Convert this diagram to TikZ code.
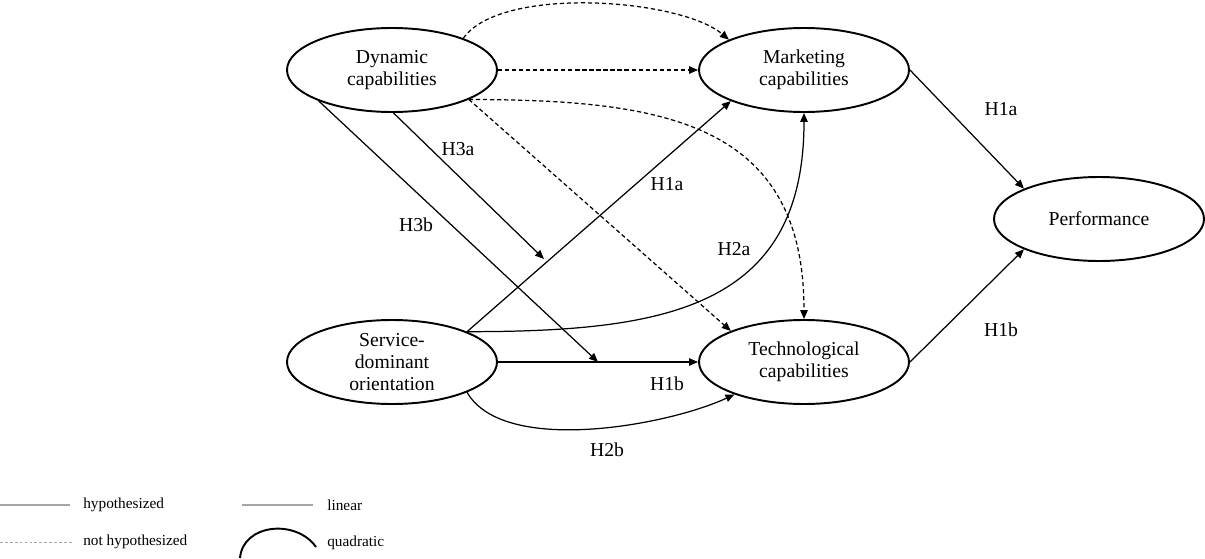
\documentclass[tikz,border=0pt]{standalone}
\usepackage{fontspec}
\setmainfont{Liberation Serif}
\usetikzlibrary{arrows.meta,positioning,shapes.geometric,calc}
\definecolor{LegendGray}{HTML}{A6A6A6}

\begin{document}
\begin{tikzpicture}[
  x=1cm, y=1cm,
  construct/.style={draw, ellipse, line width=1.1pt, minimum width=4.2cm, minimum height=1.68cm, inner sep=0pt, align=center, font=\fontsize{11.2}{12.3}\selectfont},
  arr/.style={-{Triangle[length=1.8mm, width=1.5mm]}, line width=0.7pt},
  nothyp/.style={arr, dash pattern=on 2.4pt off 1.6pt},
  hlabel/.style={inner sep=0pt, font=\fontsize{11.2}{12.3}\selectfont},
  legtext/.style={anchor=west, inner sep=0pt, font=\fontsize{8.7}{10}\selectfont},
  legline/.style={LegendGray, line width=0.6pt}
]
\useasboundingbox (0,0) rectangle (24.1,11.16);
% constructs
\node[construct] (dc) at (7.84,9.76) {Dynamic\\capabilities};
\node[construct] (mc) at (16.08,9.76) {Marketing\\capabilities};
\node[construct] (perf) at (21.98,6.78) {Performance};
\node[construct] (tc) at (16.08,3.92) {Technological\\capabilities};
\node[construct] (sdo) at (7.84,3.92) {Service-\\dominant\\orientation};
% moderation targets
\coordinate (h3a) at (10.88,5.98);
\coordinate (h3b) at ($(sdo.east)!0.5!(tc.west)$);
% not hypothesized
\draw[nothyp] (dc.east) -- (mc.west);
\draw[nothyp] (dc.24) to[out=55, in=140, looseness=0.62] (mc.158);
\draw[nothyp] (dc.-21) -- (tc.157);
\draw[nothyp] (dc.-21) to[out=0, in=90, looseness=1.25] (tc.north);
% hypothesized
\draw[arr] (sdo.22) -- (mc.203);
\draw[arr] (sdo.22) to[out=0, in=-90, looseness=1.25] (mc.south);
\draw[arr] (sdo.east) -- (tc.west);
\draw[arr] (sdo.-22) to[out=-60, in=205, looseness=0.7] (tc.205);
\draw[arr] (dc.-88) -- (h3a);
\draw[arr] (dc.-157) -- (h3b);
\draw[arr] (mc.east) -- (perf.158);
\draw[arr] (tc.east) -- (perf.202);
% labels
\node[hlabel] (l3a) at (9.16,8.18) {H3a};
\node[hlabel] (l3b) at (8.32,6.66) {H3b};
\node[hlabel] (l1a) at (13.34,7.48) {H1a};
\node[hlabel] (l2a) at (14.68,6.18) {H2a};
\node[hlabel] (l1b) at (13.34,3.48) {H1b};
\node[hlabel] (l2b) at (12.14,2.16) {H2b};
\node[hlabel] (l1ap) at (20.02,8.98) {H1a};
\node[hlabel] (l1bp) at (20.02,4.56) {H1b};
% legend
\coordinate (hypA) at (0,1.06);
\coordinate (hypB) at (1.40,1.06);
\coordinate (nhA) at (0,0.32);
\coordinate (nhB) at (1.44,0.32);
\coordinate (linA) at (4.84,1.06);
\coordinate (linB) at (6.26,1.06);
\coordinate (quadA) at (4.80,0);
\coordinate (quadB) at (6.32,0.22);
\draw[legline] (hypA) -- (hypB);
\draw[legline, dash pattern=on 1.6pt off 1.2pt, line width=0.4pt] (nhA) -- (nhB);
\draw[legline] (linA) -- (linB);
\draw[line width=1.1pt] (quadA) to[out=85, in=125, looseness=1.15] (quadB);
\node[legtext] (hyp) at (1.66,1.06) {hypothesized};
\node[legtext] (nh) at (1.66,0.32) {not hypothesized};
\node[legtext] (lin) at (6.54,1.06) {linear};
\node[legtext] (quad) at (6.54,0.30) {quadratic};
\end{tikzpicture}
\end{document}
